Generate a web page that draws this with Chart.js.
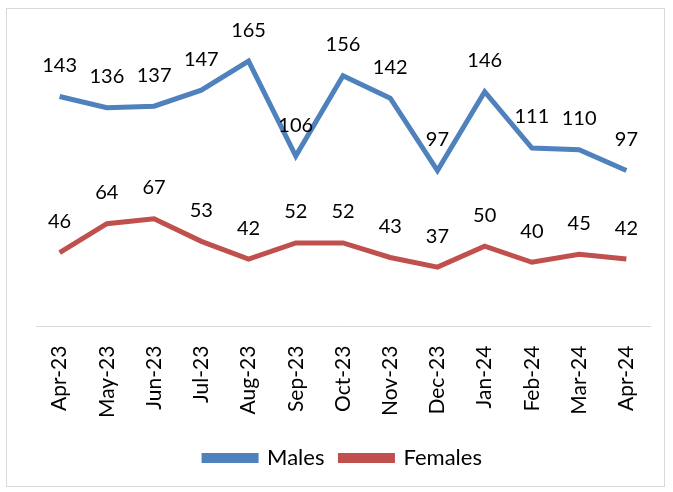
<!DOCTYPE html>
<html><head><meta charset="utf-8">
<script src="https://cdn.jsdelivr.net/npm/chart.js@4/dist/chart.umd.min.js"></script>
<style>
html,body{margin:0;padding:0;background:#fff;}
#wrap{position:relative;width:673px;height:492px;}
#frame{position:absolute;left:6px;top:8px;width:659px;height:479px;border:1px solid #d9d9d9;box-sizing:border-box;pointer-events:none;}
</style></head>
<body>
<div id="wrap"><canvas id="c" width="673" height="492"></canvas><div id="frame"></div></div>
<script>
const categories = ["Apr-23","May-23","Jun-23","Jul-23","Aug-23","Sep-23","Oct-23","Nov-23","Dec-23","Jan-24","Feb-24","Mar-24","Apr-24"];
const males = [143,136,137,147,165,106,156,142,97,146,111,110,97];
const females = [46,64,67,53,42,52,52,43,37,50,40,45,42];

const FONT = "Lato, 'Open Sans', sans-serif";

const labelPlugin = {
  id: 'pointLabels',
  afterDatasetsDraw(chart) {
    const ctx = chart.ctx;
    ctx.save();
    ctx.font = "20px " + FONT;
    ctx.fillStyle = "#000";
    ctx.textAlign = "center";
    ctx.textBaseline = "middle";
    chart.data.datasets.forEach((ds, i) => {
      const meta = chart.getDatasetMeta(i);
      meta.data.forEach((pt, j) => {
        ctx.fillText(String(ds.data[j]), pt.x, pt.y - 31);
      });
    });
    ctx.restore();
  }
};

new Chart(document.getElementById('c'), {
  type: 'line',
  data: {
    labels: categories,
    datasets: [
      {label: 'Males', data: males, borderColor: '#4F81BD', backgroundColor: '#4F81BD', borderWidth: 5, pointRadius: 0, tension: 0},
      {label: 'Females', data: females, borderColor: '#C0504D', backgroundColor: '#C0504D', borderWidth: 5, pointRadius: 0, tension: 0}
    ]
  },
  options: {
    responsive: false,
    animation: false,
    devicePixelRatio: 1,
    layout: {padding: {left: 36, right: 23, top: 37, bottom: 13}},
    plugins: {
      legend: {
        position: 'bottom',
        labels: {font: {family: FONT, size: 22}, color: '#000', boxWidth: 52, boxHeight: 5, padding: 16}
      },
      tooltip: {enabled: false}
    },
    scales: {
      x: {
        offset: true,
        grid: {display: false, drawTicks: false},
        border: {display: true, color: '#d9d9d9', width: 1},
        ticks: {minRotation: 90, maxRotation: 90, color: '#000', font: {family: FONT, size: 21}, padding: 19},
        afterFit(scale) { scale.height -= 6; }
      },
      y: {display: false, min: 0, max: 180}
    }
  },
  plugins: [labelPlugin]
});
</script>
</body></html>
